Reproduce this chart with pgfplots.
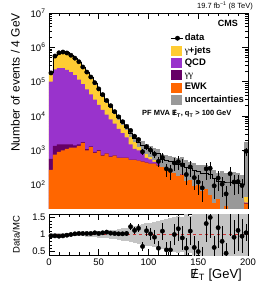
\documentclass[border=0pt]{standalone}
\usepackage{fontspec}
\setmainfont{Liberation Sans}
\newfontfamily\serif{Liberation Serif}
\usepackage{pgfplots}
\pgfplotsset{compat=1.18}
\usepackage{pgfplotstable}

\definecolor{cyel}{HTML}{FFCC33}
\definecolor{cqcd}{HTML}{9933CC}
\definecolor{cgg}{HTML}{660066}
\definecolor{cewk}{HTML}{FF6600}
\definecolor{cunc}{HTML}{999999}
\definecolor{cband}{HTML}{C4C4C4}
\definecolor{cred}{HTML}{CC3333}

\newcommand{\met}{\mbox{\ooalign{E\cr\hidewidth/\hidewidth}}\textsubscript{T}}

% bins: low edge, EWK, EWK+gg, EWK+gg+QCD, total MC, rel. uncertainty
\pgfplotstableread{
x ewk gg qcd tot r
0 270 570 1.0e5 1.88e5 0.03
4 750 1350 2.3e5 5.8e5 0.03
8 900 1500 2.5e5 7.3e5 0.03
12 1000 1500 2.5e5 7.6e5 0.03
16 1100 1500 2.2e5 7.0e5 0.03
20 1200 1500 1.9e5 5.9e5 0.04
24 1200 1400 1.55e5 4.75e5 0.04
28 1350 1500 1.15e5 3.7e5 0.05
32 1650 1750 8.5e4 2.6e5 0.05
36 1000 1080 6.0e4 1.85e5 0.06
40 1250 1310 4.3e4 1.33e5 0.07
44 850 900 3.0e4 8.9e4 0.08
48 970 1010 2.1e4 6.0e4 0.09
52 700 730 1.5e4 4.0e4 0.10
56 800 820 1.1e4 2.65e4 0.11
60 650 670 8.0e3 1.92e4 0.12
64 700 715 6.0e3 1.3e4 0.14
68 610 620 4.2e3 9.3e3 0.16
72 610 620 3.2e3 6.7e3 0.18
76 610 620 2.4e3 4.8e3 0.20
80 530 538 1.5e3 3.1e3 0.22
84 530 537 1.1e3 2.3e3 0.25
88 500 506 1.0e3 1.75e3 0.28
92 470 475 850 1.4e3 0.30
96 440 444 600 1.15e3 0.33
100 410 414 550 1.0e3 0.35
104 410 414 460 850 0.38
108 360 363 450 800 0.40
112 330 333 420 560 0.42
116 310 313 360 520 0.45
120 310 312 330 470 0.48
124 290 292 300 430 0.50
128 240 242 250 400 0.55
132 190 192 200 420 0.50
136 180 182 190 330 0.60
140 190 192 200 300 0.55
144 170 172 180 260 0.65
148 110 112 115 240 0.60
152 100 102 105 220 0.70
156 95 97 100 220 0.65
160 90 92 95 200 0.75
164 95 97 100 150 0.80
168 40 41 44 130 0.70
172 38 39 40 130 0.90
176 45 46 48 120 0.80
180 45 46 47 120 0.95
184 45 46 47 130 0.85
188 32 33 34 110 0.95
192 30 31 35 100 0.90
196 28 29 30 900 0.95
200 28 29 30 900 0.95
}\bins

% data: bin centre, events, error, data/MC, error
\pgfplotstableread{
x y ey rat er
2 1.80e5 2e3 0.96 0.01
6 5.57e5 4e3 0.96 0.01
10 6.94e5 4e3 0.95 0.01
14 7.30e5 4e3 0.96 0.01
18 6.86e5 4e3 0.98 0.01
22 5.9e5 4e3 1.00 0.01
26 4.85e5 3e3 1.02 0.01
30 3.81e5 3e3 1.03 0.01
34 2.68e5 3e3 1.03 0.01
38 1.91e5 2e3 1.03 0.015
42 1.37e5 2e3 1.03 0.015
46 9.35e4 1.5e3 1.05 0.02
50 6.18e4 1.2e3 1.03 0.02
54 4.2e4 1e3 1.05 0.025
58 2.84e4 8e2 1.07 0.03
62 2.0e4 6e2 1.04 0.03
66 1.34e4 5e2 1.03 0.035
70 9.49e3 4e2 1.02 0.04
74 6.83e3 4e2 1.02 0.05
78 4.94e3 3.5e2 1.03 0.06
82 3.81e3 4e2 1.23 0.10
86 2.58e3 3e2 1.12 0.10
90 2.07e3 3e2 1.18 0.12
94 910 2e2 0.65 0.12
98 1277 2.5e2 1.11 0.15
102 1020 2.5e2 1.02 0.18
106 782 2e2 0.92 0.20
110 480 1.5e2 0.60 0.20
114 620 2e2 1.10 0.25
118 290 1.2e2 0.55 0.22
122 260 1.2e2 0.55 0.25
126 430 1.8e2 1.00 0.30
130 468 2e2 1.17 0.35
134 378 1.8e2 0.90 0.35
138 198 1e2 0.60 0.30
142 330 1.6e2 1.10 0.40
146 161 9e1 0.62 0.35
150 120 7e1 0.50 0.30
154 81 5e1 0.37 0.25
158 290 1.5e2 1.32 0.55
162 300 1.5e2 1.50 0.60
166 93 5.5e1 0.62 0.35
170 156 9e1 1.20 0.60
174 104 6e1 0.80 0.45
178 54 3.5e1 0.45 0.30
182 210 1.2e2 1.75 0.80
186 120 7e1 0.92 0.50
190 123 7e1 1.12 0.60
194 95 5.5e1 0.95 0.50
198 950 2.5e2 1.05 0.25
}\data

\pgfplotsset{
  every axis/.append style={
    scale only axis,
    xmin=0, xmax=200,
    tick align=inside,
    xtick pos=both, ytick pos=both,
    major tick length=6pt, minor tick length=3pt,
    tick style={black, line width=0.5pt},
    axis line style={line width=0.6pt},
    tick label style={font=\fontsize{9.5}{10}\selectfont},
    xtick={0,50,100,150,200},
    minor xtick={10,20,30,40,60,70,80,90,110,120,130,140,160,170,180,190},
  },
  bandbar/.style={draw=none, mark=none, forget plot,
    skip coords between index={50}{51},
    error bars/.cd, y dir=both, y explicit, error mark=none,
    error bar style={line width=4.05pt, color=#1}},
}

\begin{document}
\begin{tikzpicture}[x=1pt,y=1pt]

\begin{axis}[
  at={(49pt,74pt)}, anchor=south west,
  width=199pt, height=195pt,
  ymode=log, ymin=21, ymax=1e7,
  xticklabels={},
  ytick={100,1000,10000,100000,1000000,10000000},
  yticklabels={10\textsuperscript{2},10\textsuperscript{3},10\textsuperscript{4},10\textsuperscript{5},10\textsuperscript{6},10\textsuperscript{7}},
  minor ytick={30,40,50,60,70,80,90,200,300,400,500,600,700,800,900,2000,3000,4000,5000,6000,7000,8000,9000,20000,30000,40000,50000,60000,70000,80000,90000,200000,300000,400000,500000,600000,700000,800000,900000,2000000,3000000,4000000,5000000,6000000,7000000,8000000,9000000},
  ylabel={Number of events / 4 GeV},
  ylabel style={at={(axis description cs:-0.146,1)}, anchor=south east, inner sep=0pt, font=\fontsize{12}{13}\selectfont},
  legend style={at={(axis description cs:0.613,0.9)}, anchor=north west, draw=none, fill=none,
    font=\bfseries\fontsize{9.5}{10}\selectfont, inner sep=0pt, row sep=1.3pt,
    nodes={inner sep=1pt, text height=7pt, text depth=2pt},
    /tikz/every even column/.append style={column sep=3pt}},
  legend cell align=left,
]
\addplot[ybar interval, fill=cyel, draw=none, forget plot] table[x=x, y=tot] {\bins};
\addplot[ybar interval, fill=cqcd, draw=none, forget plot] table[x=x, y=qcd] {\bins};
\addplot[ybar interval, fill=cgg, draw=none, forget plot] table[x=x, y=gg] {\bins};
\addplot[ybar interval, fill=cewk, draw=none, forget plot] table[x=x, y=ewk] {\bins};
\addplot[bandbar=cunc] table[x expr=\thisrow{x}+2, y=tot, y error expr=\thisrow{tot}*\thisrow{r}] {\bins};
\addplot[black, line width=0.5pt, const plot mark left, forget plot] table[x=x, y=tot] {\bins};
\addplot[black, only marks, mark=*, mark size=2.2pt, forget plot,
  error bars/.cd, y dir=both, y explicit, error mark=none,
  error bar style={line width=0.6pt}]
  table[x=x, y=y, y error=ey] {\data};

\addlegendimage{legend image code/.code={\draw[black, line width=0.6pt] (0pt,0pt) -- (12pt,0pt); \fill[black] (6pt,0pt) circle (2.2pt);}}
\addlegendentry{data}
\addlegendimage{legend image code/.code={\fill[cyel] (0pt,-4.5pt) rectangle (10pt,4.5pt);}}
\addlegendentry{{\serif\mdseries γ}+jets}
\addlegendimage{legend image code/.code={\fill[cqcd] (0pt,-4.5pt) rectangle (10pt,4.5pt);}}
\addlegendentry{QCD}
\addlegendimage{legend image code/.code={\fill[cgg] (0pt,-4.5pt) rectangle (10pt,4.5pt);}}
\addlegendentry{{\serif\mdseries γγ}}
\addlegendimage{legend image code/.code={\fill[cewk] (0pt,-4.5pt) rectangle (10pt,4.5pt);}}
\addlegendentry{EWK}
\addlegendimage{legend image code/.code={\fill[cunc] (0pt,-4.5pt) rectangle (10pt,4.5pt);}}
\addlegendentry{uncertainties}
\end{axis}

\begin{axis}[
  at={(49pt,27pt)}, anchor=south west,
  width=199pt, height=41pt,
  ymin=0.4, ymax=1.6,
  ytick={0.5,1,1.5}, yticklabels={0.5,1,1.5},
  minor ytick={0.6,0.7,0.8,0.9,1.1,1.2,1.3,1.4},
  xticklabels={0,50,100,150,200},
  ylabel={Data/MC},
  ylabel style={at={(axis description cs:-0.146,0.5)}, anchor=south, inner sep=0pt, font=\fontsize{9.5}{10}\selectfont},
  xlabel={\met\ [GeV]},
  xlabel style={at={(axis description cs:0.97,-0.33)}, anchor=north east, inner sep=0pt, font=\fontsize{13}{14}\selectfont},
]
\addplot[bandbar=cband] table[x expr=\thisrow{x}+2, y expr=1, y error=r] {\bins};
\addplot[cred, dashed, line width=1.1pt, forget plot] coordinates {(0,1) (200,1)};
\addplot[black, only marks, mark=*, mark size=2.2pt, forget plot,
  error bars/.cd, y dir=both, y explicit, error mark=none,
  error bar style={line width=0.6pt}]
  table[x=x, y=rat, y error=er] {\data};
\end{axis}

\node[anchor=base east, inner sep=0pt, font=\fontsize{7.5}{8}\selectfont] at (253,273) {19.7 fb\textsuperscript{−1} (8 TeV)};
\node[anchor=base east, inner sep=0pt, font=\bfseries\fontsize{9}{10}\selectfont] at (238,255) {CMS};
\node[anchor=base west, inner sep=0pt, font=\bfseries\fontsize{7.5}{8}\selectfont] at (142,166) {PF MVA \met, q\textsubscript{T} > 100 GeV};
\path (0,0) rectangle (266,282);
\end{tikzpicture}
\end{document}
